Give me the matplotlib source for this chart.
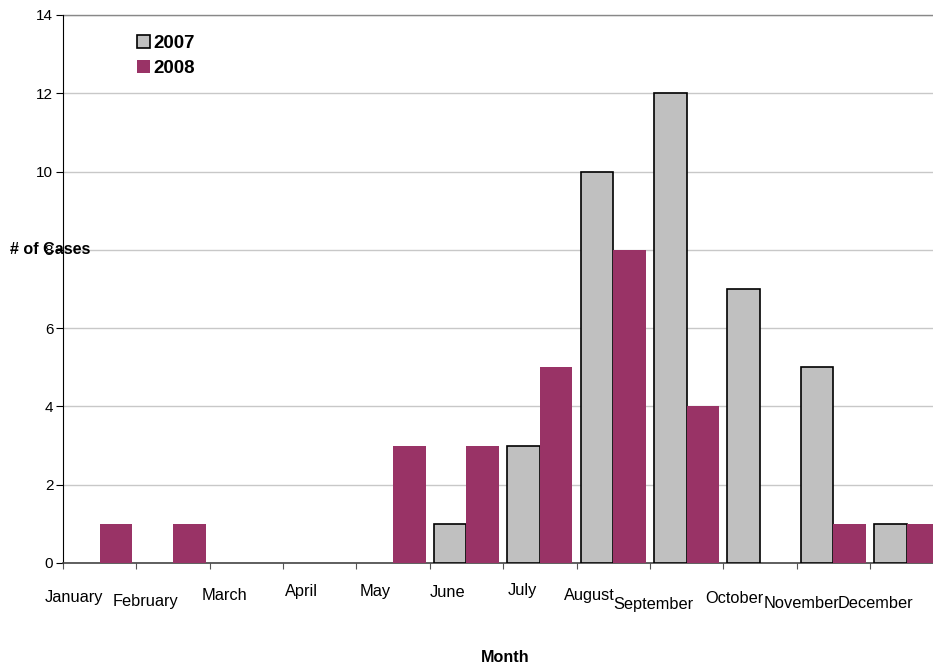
import numpy as np
import matplotlib
matplotlib.use("Agg")
import matplotlib.pyplot as plt
from matplotlib.patches import Patch

plt.rcParams['font.family'] = ['Liberation Sans', 'DejaVu Sans']

months = ["January", "February", "March", "April", "May", "June",
          "July", "August", "September", "October", "November", "December"]
cases_2007 = [0, 0, 0, 0, 0, 1, 3, 10, 12, 7, 5, 1]
cases_2008 = [1, 1, 0, 0, 3, 3, 5, 8, 4, 0, 1, 1]
series_names = ["2007", "2008"]
y_ticks = [0, 2, 4, 6, 8, 10, 12, 14]

# label placement: pixel offsets of each baseline from its category centre (staggered)
label_dx = [-26, -28, -22, -18, -17.5, -19, -17, -24, -33, -26, -31.5, -31]
label_dy = [-39, -43, -37, -33, -33, -34, -32, -37, -46, -40, -45, -45]

W, H = 933, 666
fig = plt.figure(figsize=(W / 100, H / 100), dpi=100)
ax_left, ax_right, ax_top, ax_bot = 63, 943.3, 15, 563
ax = fig.add_axes([ax_left / W, 1 - ax_bot / H, (ax_right - ax_left) / W,
                   (ax_bot - ax_top) / H])

x = np.arange(len(months))
w = 0.445
v07 = np.array(cases_2007)
v08 = np.array(cases_2008)
ax.bar(x - w / 2, v07, width=w, color="#C0C0C0", edgecolor="black",
       linewidth=np.where(v07 > 0, 1.2, 0), zorder=3)
ax.bar(x + w / 2, v08, width=w, color="#993366", linewidth=0, zorder=3)

ax.set_xlim(-0.5, len(months) - 0.5)
ax.set_ylim(0, 14)
ax.set_yticks(y_ticks)
ax.set_yticklabels([str(t) for t in y_ticks], fontsize=11)
ax.yaxis.grid(True, color="#c8c8c8", linewidth=1, zorder=0)
ax.set_axisbelow(True)

# category boundaries as ticks
ax.set_xticks(np.arange(len(months) + 1) - 0.5)
ax.set_xticklabels([])
ax.tick_params(axis="x", length=4, direction="out", color="#555555")
ax.tick_params(axis="y", length=5, direction="out", color="black", pad=2)

for s in ["top", "right"]:
    ax.spines[s].set_visible(False)
ax.spines["left"].set_color("black")
ax.spines["bottom"].set_color("#444444")
ax.spines["bottom"].set_linewidth(1.2)
ax.plot([-0.5, len(months) - 0.5], [14, 14], color="#888888", linewidth=1,
        clip_on=False, zorder=1)

for i, m in enumerate(months):
    ax.annotate(m, xy=(x[i], 0), xycoords="data",
                xytext=(label_dx[i] * 0.72, label_dy[i] * 0.72),
                textcoords="offset points", ha="center", va="baseline",
                fontsize=11.8)

fig.text(50 / W, 1 - 254 / H, "# of Cases", fontsize=11.6, fontweight="bold",
         ha="center", va="baseline")
fig.text(505 / W, 1 - 662 / H, "Month", fontsize=11.6, fontweight="bold",
         ha="center", va="baseline")

handles = [Patch(facecolor="#C0C0C0", edgecolor="black", linewidth=1.2),
           Patch(facecolor="#993366", edgecolor="none")]
ax_w = ax_right - ax_left
ax_h = ax_bot - ax_top
ax.legend(handles, series_names, loc="upper left",
          bbox_to_anchor=((137 - ax_left) / ax_w, 1 - (35 - ax_top) / ax_h),
          frameon=False, prop={"weight": "bold", "size": 13.5},
          handlelength=0.69, handleheight=0.69, handletextpad=0.2,
          labelspacing=0.42, borderpad=0, borderaxespad=0)

fig.savefig("out.png", dpi=100)
